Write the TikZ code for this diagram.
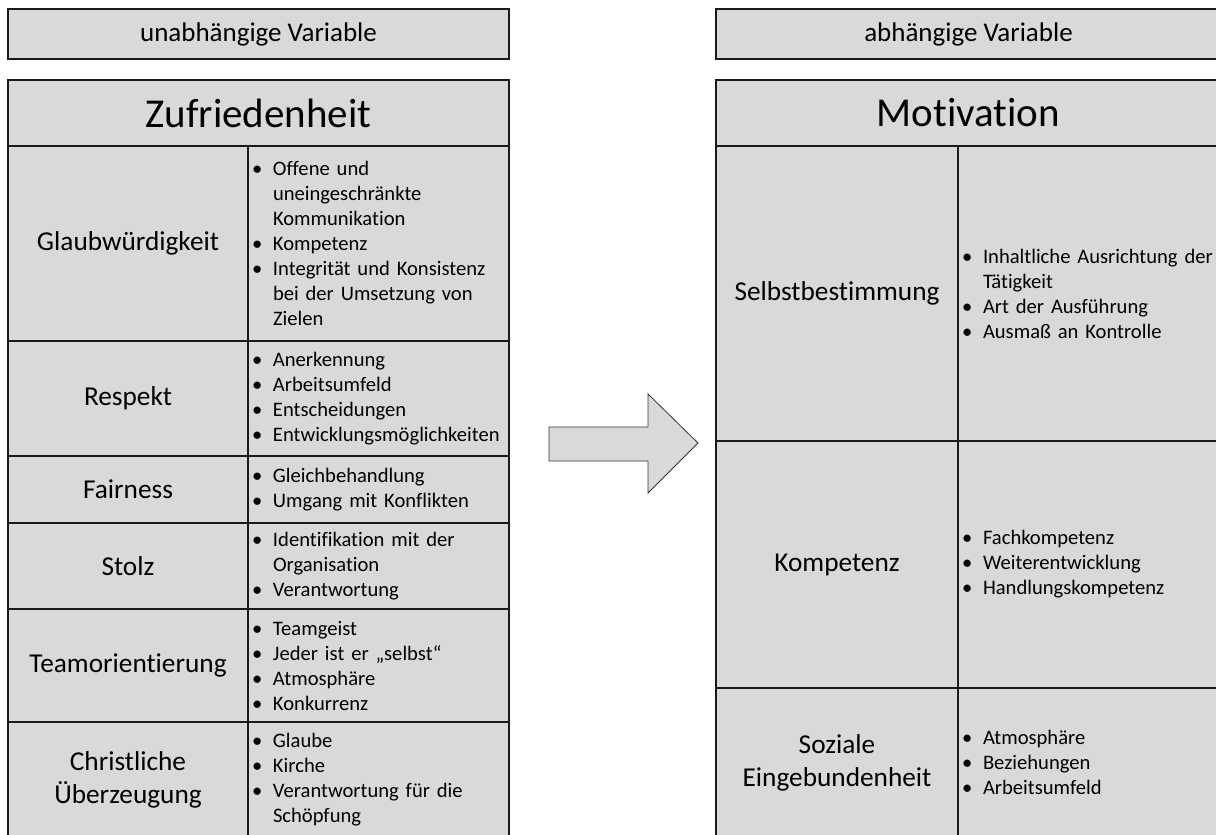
\documentclass[tikz,border=0pt]{standalone}
\usepackage{fontspec}
\setmainfont{Carlito}[Ligatures={NoCommon}]
\definecolor{cellgray}{HTML}{D9D9D9}
\definecolor{edge}{HTML}{1A1A1A}
\newcommand\bitem{\makebox[21pt][l]{•}}
\newcommand\bcont{\makebox[21pt]{}}
\begin{document}
\begin{tikzpicture}[x=1pt,y=-1pt,
  cell/.style={draw=edge,line width=1.2pt,fill=cellgray,rectangle,inner sep=0pt,anchor=center},
  headbox/.style={cell,font=\fontsize{27pt}{33pt}\selectfont,minimum height=50pt},
  titlebox/.style={cell,font=\fontsize{41pt}{50pt}\selectfont,minimum height=66pt},
  labcell/.style={cell,font=\fontsize{27.3pt}{33pt}\selectfont,align=center},
  listcell/.style={cell,font=\fontsize{20.6pt}{25pt}\selectfont,align=left,inner xsep=4pt,inner ysep=0pt},
  bigarrow/.style={draw=black!80,line width=0.8pt,fill=cellgray,line join=miter}
]
\useasboundingbox (0,0) rectangle (1216,835);

% headers
\node[headbox,minimum width=501pt] (hl) at (258.5,34) {unabhängige Variable};
\node[headbox,minimum width=505pt] (hr) at (968.5,34) {abhängige Variable};

% titles
\node[titlebox,minimum width=501pt] (tl) at (258.5,113) {Zufriedenheit};
\node[titlebox,minimum width=505pt] (tr) at (968.5,113) {Motivation};

% left table
\node[labcell,minimum width=240pt,minimum height=195pt] (l1) at (128,243.5) {Glaubwürdigkeit};
\node[listcell,text width=253pt,minimum height=195pt] (r1) at (378.5,243.5)
  {\bitem Offene und\\ \bcont uneingeschränkte\\ \bcont Kommunikation\\ \bitem Kompetenz\\ \bitem Integrität und Konsistenz\\ \bcont bei der Umsetzung von\\ \bcont Zielen};

\node[labcell,minimum width=240pt,minimum height=115pt] (l2) at (128,398.5) {Respekt};
\node[listcell,text width=253pt,minimum height=115pt] (r2) at (378.5,398.5)
  {\bitem Anerkennung\\ \bitem Arbeitsumfeld\\ \bitem Entscheidungen\\ \bitem Entwicklungsmöglichkeiten};

\node[labcell,minimum width=240pt,minimum height=67pt] (l3) at (128,489.5) {Fairness};
\node[listcell,text width=253pt,minimum height=67pt] (r3) at (378.5,489.5)
  {\bitem Gleichbehandlung\\ \bitem Umgang mit Konflikten};

\node[labcell,minimum width=240pt,minimum height=86pt] (l4) at (128,566) {Stolz};
\node[listcell,text width=253pt,minimum height=86pt] (r4) at (378.5,566)
  {\bitem Identifikation mit der\\ \bcont Organisation\\ \bitem Verantwortung};

\node[labcell,minimum width=240pt,minimum height=113pt] (l5) at (128,665.5) {Teamorientierung};
\node[listcell,text width=253pt,minimum height=113pt] (r5) at (378.5,665.5)
  {\bitem Teamgeist\\ \bitem Jeder ist er „selbst“\\ \bitem Atmosphäre\\ \bitem Konkurrenz};

\node[labcell,minimum width=240pt,minimum height=115pt] (l6) at (128,779.5) {Christliche\\ Überzeugung};
\node[listcell,text width=253pt,minimum height=115pt] (r6) at (378.5,779.5)
  {\bitem Glaube\\ \bitem Kirche\\ \bitem Verantwortung für die\\ \bcont Schöpfung};

% right table
\node[labcell,minimum width=242pt,minimum height=295pt] (m1) at (837,293.5) {Selbstbestimmung};
\node[listcell,text width=255pt,minimum height=295pt] (n1) at (1089.5,293.5)
  {\bitem Inhaltliche Ausrichtung der\\ \bcont Tätigkeit\\ \bitem Art der Ausführung\\ \bitem Ausmaß an Kontrolle};

\node[labcell,minimum width=242pt,minimum height=247pt] (m2) at (837,564.5) {Kompetenz};
\node[listcell,text width=255pt,minimum height=247pt] (n2) at (1089.5,564.5)
  {\bitem Fachkompetenz\\ \bitem Weiterentwicklung\\ \bitem Handlungskompetenz};

\node[labcell,minimum width=242pt,minimum height=149pt] (m3) at (837,762.5) {Soziale\\ Eingebundenheit};
\node[listcell,text width=255pt,minimum height=149pt] (n3) at (1089.5,762.5)
  {\bitem Atmosphäre\\ \bitem Beziehungen\\ \bitem Arbeitsumfeld};

% block arrow
\draw[bigarrow] (549,427) -- (648,427) -- (648,394) -- (698,443) -- (648,493) -- (648,461) -- (549,461) -- cycle;
\end{tikzpicture}
\end{document}
